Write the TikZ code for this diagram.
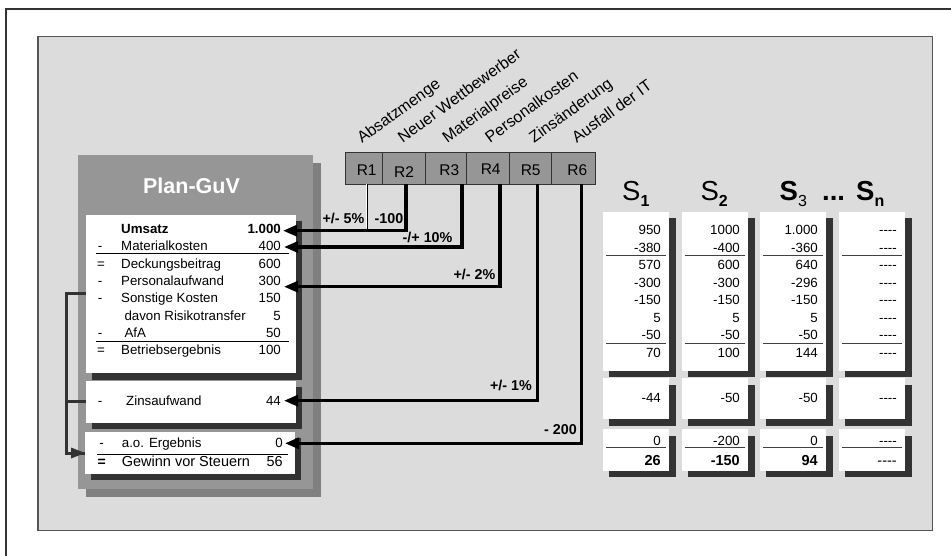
\documentclass[tikz,border=0pt]{standalone}
\usepackage{fontspec}
\setmainfont{Liberation Sans}
\usetikzlibrary{arrows.meta}
\newcommand\fsz[1]{\fontsize{#1}{#1}\selectfont}
\newcommand\dsh{-\kern0pt-\kern0pt-\kern0pt-}
\newcommand\subsc[1]{\raisebox{-6.5pt}{\fsz{16}#1}}
\definecolor{panel}{HTML}{DCDCDC}
\definecolor{boxgray}{HTML}{969696}
\definecolor{boxshade}{HTML}{808080}
\definecolor{darkshade}{HTML}{333333}
\definecolor{rimgray}{HTML}{555555}
\begin{document}
\begin{tikzpicture}[x=1pt,y=-1pt,
  txt/.style={inner sep=0pt,font=\fsz{13.3}},
  lt/.style={txt,anchor=base west},
  rt/.style={txt,anchor=base east},
  ct/.style={txt,anchor=base},
  blt/.style={inner sep=0pt,font=\fsz{14.3}\bfseries},
  rlab/.style={inner sep=0pt,font=\fsz{15.5},anchor=base},
  rot/.style={inner sep=0pt,font=\fsz{16},anchor=base west,rotate=36},
  shead/.style={inner sep=0pt,anchor=base west,font=\fsz{27.5}},
  rbox/.style={draw=darkshade,fill=boxgray,line width=1pt},
  arr/.style={line width=3.2pt,-{Triangle[length=14pt,width=11pt]}},
  dbl/.style={draw=black,line width=0.6pt,double=white,double distance=1.2pt},
  fb/.style={draw=darkshade,line width=3pt},
  rule/.style={draw=black,line width=0.9pt},
  srule/.style={draw=black!75,line width=0.9pt},
  shade/.style={fill=darkshade},
  wbox/.style={fill=white}
]
\useasboundingbox (0,0) rectangle (951,556);
\fill[white] (0,0) rectangle (951,556);
% outer frame
\draw[darkshade,line width=1.8pt] (951,9) -- (6,9) -- (6,556);
% panel
\draw[rimgray,fill=panel,line width=1.2pt] (38,36.5) rectangle (932.7,530.7);

% Plan-GuV box
\fill[boxshade] (86,163) rectangle (321,497);
\fill[boxgray] (78,155) rectangle (313,489);
\node[inner sep=0pt,font=\fsz{21.5}\bfseries,text=white,anchor=base] (title) at (191.5,193.3) {Plan-GuV};

% white boxes left
\fill[shade] (92,221) rectangle (302,380);
\fill[wbox] (86,215) rectangle (296,373);
\fill[shade] (92,387) rectangle (302,429);
\fill[wbox] (86,381) rectangle (296,423);
\fill[shade] (91,438) rectangle (301,480);
\fill[wbox] (85,432) rectangle (295,474);

% rows box 1
\node[lt,font=\fsz{13.3}\bfseries] (l0) at (121,233.5) {Umsatz};
\node[rt,font=\fsz{13.3}\bfseries] (v0) at (281,233.5) {1.000};
\node[ct] (o1) at (100,250.8) {-};
\node[lt] (l1) at (121,250.8) {Materialkosten};
\node[rt] (v1) at (281,250.8) {400};
\node[ct] (o2) at (101,268.1) {=};
\node[lt] (l2) at (121,268.1) {Deckungsbeitrag};
\node[rt] (v2) at (281,268.1) {600};
\node[ct] (o3) at (100,285.4) {-};
\node[lt] (l3) at (121,285.4) {Personalaufwand};
\node[rt] (v3) at (281,285.4) {300};
\node[ct] (o4) at (100,302.7) {-};
\node[lt] (l4) at (121,302.7) {Sonstige Kosten};
\node[rt] (v4) at (281,302.7) {150};
\node[lt] (l5) at (124.3,320) {davon Risikotransfer};
\node[rt] (v5) at (281,320) {5};
\node[ct] (o6) at (100,337.3) {-};
\node[lt] (l6) at (124.3,337.3) {AfA};
\node[rt] (v6) at (281,337.3) {50};
\node[ct] (o7) at (101,354.6) {=};
\node[lt] (l7) at (121,354.6) {Betriebsergebnis};
\node[rt] (v7) at (281,354.6) {100};
\draw[rule] (96,253.3) -- (289,253.3);
\draw[rule] (96,341.7) -- (289,341.7);
% box 2
\node[ct] (o8) at (100,405) {-};
\node[lt] (l8) at (126,405) {Zinsaufwand};
\node[rt] (v8) at (281,405) {44};
% box 3
\node[ct] (o9) at (101.7,447.7) {-};
\node[lt] (l9) at (121.7,447.7) {a.o. Ergebnis};
\node[rt] (v9) at (283,447.7) {0};
\draw[rule] (97,454) -- (288,454);
\node[ct,font=\fsz{14}\bfseries] (o10) at (101.7,466) {=};
\node[lt,font=\fsz{14.5}] (l10) at (121.7,466) {Gewinn vor Steuern};
\node[rt,font=\fsz{14.5}] (v10) at (283,466) {56};

% feedback bracket
\coordinate (fbtop) at (86,294);
\coordinate (fbmid) at (86,401);
\coordinate (fbcorner) at (66,453);
\coordinate (fbend) at (85,453);
\draw[fb] (fbtop) -| (fbcorner) -- (fbend);
\draw[fb] (fbmid) -- (fbmid -| fbcorner);
\fill[darkshade] (fbend) -- ++(-14,-5.5) -- ++(0,11) -- cycle;

% R boxes
\draw[rbox] (345,152.7) rectangle (382.7,184.3);
\draw[rbox] (382.7,152.7) rectangle (425.7,184.3);
\draw[rbox] (425.7,152.7) rectangle (466.5,184.3);
\draw[rbox] (466.5,152.7) rectangle (509,184.3);
\draw[rbox] (509,152.7) rectangle (551.7,184.3);
\draw[rbox] (551.7,152.7) rectangle (595.7,184.3);
\node[rlab] (r1) at (366.7,176) {R1};
\node[rlab] (r2) at (404,177.3) {R2};
\node[rlab] (r3) at (449.3,176) {R3};
\node[rlab] (r4) at (490.7,175) {R4};
\node[rlab] (r5) at (530.7,176) {R5};
\node[rlab] (r6) at (577.3,176) {R6};

% rotated risk labels
\node[rot] (n1) at (362,144) {Absatzmenge};
\node[rot] (n2) at (402.7,143.5) {Neuer Wettbewerber};
\node[rot] (n3) at (447.3,143.5) {Materialpreise};
\node[rot] (n4) at (490,143.5) {Personalkosten};
\node[rot] (n5) at (534,143.5) {Zinsänderung};
\node[rot] (n6) at (576.7,143.5) {Ausfall der IT};

% connectors
\coordinate (r1out) at (366.8,184.3);
\coordinate (r1in) at (366.8,229);
\coordinate (r2out) at (406,184.3);
\coordinate (r3out) at (462,184.3);
\coordinate (r4out) at (500,184.3);
\coordinate (r5out) at (537.3,184.3);
\coordinate (r6out) at (581.7,184.3);
\coordinate (t1) at (283,230.7);
\coordinate (t2) at (284,247);
\coordinate (t3) at (284,286.7);
\coordinate (t4) at (284,400.7);
\coordinate (t5) at (285,443.3);
\draw[dbl] (r1out) -- (r1in);
\draw[arr] (r2out) |- (t1);
\draw[arr] (r3out) |- (t2);
\draw[arr] (r4out) |- (t3);
\draw[arr] (r5out) |- (t4);
\draw[arr] (r6out) |- (t5);
\node[blt,anchor=base east] (a1) at (364.5,223.3) {+/- 5\%};
\node[blt,anchor=base west] (a2) at (374.5,223.3) {-100};
\node[blt,anchor=base west] (a3) at (402.5,242.3) {-/+ 10\%};
\node[blt,anchor=base east] (a4) at (495.5,279.3) {+/- 2\%};
\node[blt,anchor=base east] (a5) at (532,390) {+/- 1\%};
\node[blt,anchor=base east] (a6) at (577,434.3) {- 200};

% scenario headers
\node[shead] (s1) at (622,200.5) {S\subsc{\bfseries 1}};
\node[shead] (s2) at (700.4,200.5) {S\subsc{\bfseries 2}};
\node[shead,font=\fsz{27.5}\bfseries] (s3) at (779.5,200.5) {S\subsc{\mdseries 3}};
\node[shead,font=\fsz{27.5}\bfseries] (dots) at (822,200.5) {...};
\node[shead,font=\fsz{27.5}\bfseries] (sn) at (856,200.5) {S\subsc{\bfseries n}};

% scenario columns
\foreach \L/\a/\b/\c/\d/\e/\f/\g/\h/\i/\j/\k [count=\n] in
 {603/950/-380/570/-300/-150/5/-50/70/-44/0/\textbf{26},
  682/1000/-400/600/-300/-150/5/-50/100/-50/-200/\textbf{-150},
  760/1.000/-360/640/-296/-150/5/-50/144/-50/0/\textbf{94},
  839/\dsh/\dsh/\dsh/\dsh/\dsh/\dsh/\dsh/\dsh/\dsh/\dsh/\dsh}{
  \fill[shade] (\L+6,218) rectangle (\L+72.7,376.5);
  \fill[wbox] (\L,212) rectangle (\L+66,371);
  \fill[shade] (\L+6,384.5) rectangle (\L+72.7,426);
  \fill[wbox] (\L,378.3) rectangle (\L+66,419.3);
  \fill[shade] (\L+6,435.5) rectangle (\L+72.7,477);
  \fill[wbox] (\L,429.3) rectangle (\L+66,470.7);
  \node[rt] (c\n r1) at (\L+58,235) {\a};
  \node[rt] (c\n r2) at (\L+58,252.4) {\b};
  \node[rt] (c\n r3) at (\L+58,269.9) {\c};
  \node[rt] (c\n r4) at (\L+58,287.3) {\d};
  \node[rt] (c\n r5) at (\L+58,304.7) {\e};
  \node[rt] (c\n r6) at (\L+58,322.2) {\f};
  \node[rt] (c\n r7) at (\L+58,339.6) {\g};
  \node[rt] (c\n r8) at (\L+58,357) {\h};
  \node[rt] (c\n r9) at (\L+58,402.7) {\i};
  \node[rt] (c\n r10) at (\L+58,445) {\j};
  \node[rt,font=\fsz{14.5}] (c\n r11) at (\L+58,465) {\k};
  \draw[srule] (\L+3,255.7) -- (\L+63,255.7);
  \draw[srule] (\L+3,343.3) -- (\L+63,343.3);
  \draw[srule] (\L+3,447.3) -- (\L+63,447.3);
}
\end{tikzpicture}
\end{document}
